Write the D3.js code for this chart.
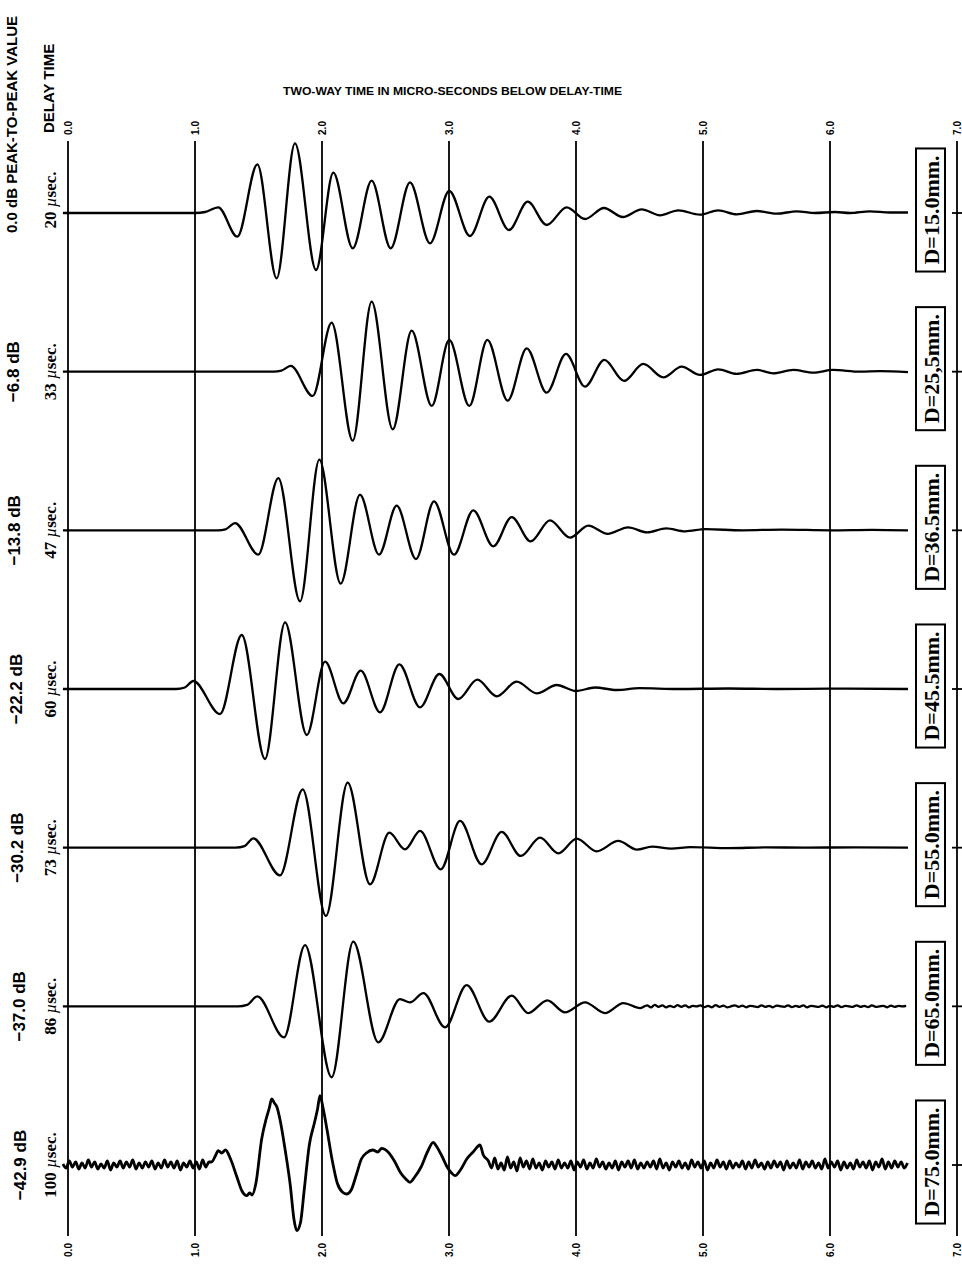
<!DOCTYPE html>
<html>
<head>
<meta charset="utf-8">
<script src="https://cdn.jsdelivr.net/npm/d3@7/dist/d3.min.js"></script>
<style>
  body { margin: 0; background: #fff; }
  svg { display: block; }
</style>
</head>
<body>
<svg width="962" height="1265"></svg>
<script>
// time axis (micro-seconds below delay time)
const timeTicks = [0, 1, 2, 3, 4, 5, 6, 7];

// one entry per trace, top to bottom
const depths = ['D=15.0mm.', 'D=25,5mm.', 'D=36.5mm.', 'D=45.5mm.', 'D=55.0mm.', 'D=65.0mm.', 'D=75.0mm.'];
const dbValues = ['0.0', '\u22126.8', '\u221213.8', '\u221222.2', '\u221230.2', '\u221237.0', '\u221242.9'];
const delays = [20, 33, 47, 60, 73, 86, 100];

// [time, amplitude] (amplitude: 1 unit = 10px)
const trace15 = [[-0.04,0],[1.0,0],[1.08,0.1],[1.183,0.57],[1.333,-2.37],[1.491,4.87],[1.643,-6.53],[1.787,6.97],
  [1.953,-5.7],[2.089,4.03],[2.242,-3.53],[2.391,3.23],[2.541,-3.53],[2.693,3.07],[2.850,-3.03],[3.002,2.2],
  [3.165,-2.3],[3.317,1.63],[3.472,-1.7],[3.620,1.13],[3.769,-1.2],[3.927,0.57],[4.071,-0.6],[4.220,0.5],
  [4.368,-0.4],[4.517,0.37],[4.661,-0.23],[4.806,0.27],[4.976,-0.17],[5.120,0.27],[5.265,-0.13],[5.423,0.2],
  [5.580,-0.07],[5.738,0.17],[5.882,0.0],[6.039,0.1],[6.157,0.0],[6.315,0.17],[6.472,0.05],[6.614,0.05]];

const trace25 = [[-0.04,0],[1.62,0],[1.68,0.1],[1.754,0.57],[1.927,-2.43],[2.076,4.9],[2.242,-6.9],[2.391,7.0],
  [2.557,-5.77],[2.706,4.1],[2.864,-3.43],[3.002,3.17],[3.160,-3.43],[3.302,3.17],[3.462,-2.9],[3.612,2.33],
  [3.769,-2.1],[3.921,1.77],[4.071,-1.5],[4.223,1.17],[4.378,-0.93],[4.530,0.77],[4.687,-0.57],[4.832,0.5],
  [4.976,-0.33],[5.120,0.23],[5.265,-0.23],[5.423,0.17],[5.554,-0.17],[5.711,0.17],[5.869,-0.1],[6.024,0.17],
  [6.236,0.0],[6.394,0.05],[6.614,-0.05]];

const trace36 = [[-0.04,0],[1.18,0],[1.24,0.1],[1.315,0.73],[1.498,-2.43],[1.656,5.23],[1.827,-7.1],[1.979,7.07],
  [2.147,-5.33],[2.299,3.57],[2.449,-2.43],[2.588,2.47],[2.740,-2.87],[2.882,2.9],[3.039,-2.43],[3.191,2.0],
  [3.349,-1.6],[3.494,1.33],[3.643,-1.1],[3.795,1.0],[3.953,-0.73],[4.097,0.47],[4.25,-0.35],[4.41,0.3],
  [4.56,-0.2],[4.71,0.2],[4.86,-0.1],[5.02,0.12],[5.31,0.0],[5.62,0.08],[6.01,0.0],[6.33,0.05],[6.614,0]];

const trace45 = [[-0.04,0],[0.85,0],[0.92,0.15],[0.987,0.8],[1.197,-2.5],[1.368,5.4],[1.551,-7.0],[1.709,6.67],
  [1.880,-4.6],[2.024,2.73],[2.168,-1.43],[2.305,1.83],[2.457,-2.33],[2.609,2.47],[2.772,-1.83],[2.924,1.5],
  [3.073,-1.0],[3.223,0.93],[3.376,-0.73],[3.533,0.73],[3.691,-0.43],[3.848,0.4],[4.0,-0.2],[4.15,0.15],
  [4.32,-0.1],[4.5,0.08],[4.8,0],[5.2,0.05],[5.6,0],[6.0,0.04],[6.614,0]];

const trace55 = [[-0.04,0],[1.32,0],[1.39,0.15],[1.459,0.93],[1.669,-2.77],[1.848,5.83],[2.031,-6.83],[2.202,6.5],
  [2.378,-3.67],[2.530,1.5],[2.654,-0.17],[2.772,1.67],[2.935,-2.17],[3.087,2.67],[3.257,-1.67],[3.415,1.57],
  [3.565,-0.83],[3.717,1.0],[3.861,-0.57],[4.006,0.9],[4.163,-0.37],[4.333,0.67],[4.48,-0.2],[4.6,0.1],
  [4.75,-0.1],[4.9,0.05],[5.2,-0.05],[5.5,0.03],[5.8,0],[6.2,0.03],[6.614,0]];

const trace65 = [[-0.04,0],[1.34,0],[1.41,0.15],[1.491,1.0],[1.701,-3.1],[1.866,6.13],[2.076,-7.1],[2.246,6.47],
  [2.443,-3.6],[2.614,0.73],[2.693,0.4],[2.798,1.33],[2.969,-2.1],[3.139,2.13],[3.317,-1.53],[3.494,1.07],
  [3.624,-0.67],[3.774,0.6],[3.913,-0.6],[4.071,0.4],[4.228,-0.67],[4.373,0.33],[4.504,-0.17]];
// small ripple on the tail of the 65mm trace, sampled every 0.03 from t=4.56
const noise65 = [0.1,-0.1,0.15,-0.05,0.1,-0.1,0.05,-0.08,0.12,-0.05,0.1,-0.1,0.05,0.0,0.1,-0.08,0.05,-0.1,
  0.12,-0.05,0.08,-0.1,0.0,0.1,-0.05,0.08,-0.1,0.05,0.0,-0.08,0.1,-0.05,0.05,-0.1,0.08,0.0,-0.05,0.1,
  -0.08,0.05,-0.05,0.1,-0.1,0.05,0.0,-0.05,0.08,-0.1,0.05,-0.05,0.1,-0.08,0.05,0.0,-0.05,0.1,-0.05,
  0.05,-0.08,0.1,-0.05,0.0,0.05,-0.1,0.08,-0.05,0.05,0.0,0.05];

// 75mm trace: noisy lead-in (every 0.025 from t=-0.04), pulse, noisy tail (every 0.025 from t=3.31)
const noise75a = [0.1,-0.3,0.4,-0.2,0.3,-0.4,0.2,-0.3,0.5,-0.2,0.3,-0.4,0.1,-0.3,0.4,-0.5,0.2,-0.2,0.4,-0.3,
  0.3,-0.2,0.5,-0.4,0.2,-0.3,0.3,-0.2,0.4,-0.4,0.2,-0.3,0.5,-0.2,0.3,-0.3,0.4,-0.5,0.2,-0.2,0.4,-0.3,
  0.3,-0.4,0.5,-0.2,0.3];
const pulse75 = [[1.13,0.3],[1.16,0.9],[1.183,1.43],[1.21,1.2],[1.24,1.5],[1.28,0.6],[1.33,-1.2],[1.37,-2.6],
  [1.407,-3.07],[1.43,-2.8],[1.45,-3.0],[1.48,-1.8],[1.525,2.6],[1.56,4.6],[1.585,5.7],[1.604,6.6],[1.625,6.2],
  [1.645,5.8],[1.67,4.5],[1.71,1.5],[1.75,-2.0],[1.78,-5.5],[1.801,-6.57],[1.83,-5.8],[1.86,-2.5],[1.90,2.0],
  [1.94,4.2],[1.965,5.6],[1.984,6.93],[2.01,5.6],[2.04,3.5],[2.08,0.5],[2.12,-1.8],[2.16,-2.7],[2.194,-2.9],
  [2.23,-2.5],[2.27,-1.0],[2.31,0.6],[2.35,1.2],[2.40,1.5],[2.44,1.3],[2.470,1.67],[2.52,1.3],[2.57,0.4],
  [2.62,-0.8],[2.66,-1.4],[2.693,-1.73],[2.73,-1.2],[2.78,-0.2],[2.83,1.3],[2.876,2.27],[2.90,1.9],[2.94,1.0],
  [2.99,-0.3],[3.02,-0.8],[3.047,-1.07],[3.09,-0.5],[3.14,0.6],[3.19,1.3],[3.244,2.0],[3.27,1.0]];
const noise75b = [0.4,-0.3,0.7,-0.4,0.2,-0.5,0.8,-0.3,0.3,-0.6,0.7,-0.2,0.4,-0.4,0.6,-0.3,0.2,-0.5,0.4,-0.2,
  0.3,-0.4,0.5,-0.3,0.2,-0.3,0.4,-0.5,0.3,-0.2,0.5,-0.4,0.2,-0.3,0.6,-0.2,0.3,-0.4,0.2,-0.3,
  0.4,-0.5,0.3,-0.2,0.4,-0.3,0.5,-0.4,0.2,-0.3,0.3,-0.2,0.4,-0.4,0.6,-0.3,0.2,-0.5,0.3,-0.2,
  0.4,-0.3,0.2,-0.4,0.5,-0.2,0.3,-0.3,0.4,-0.5,0.2,-0.3,0.5,-0.2,0.3,-0.4,0.4,-0.3,0.2,-0.2,
  0.4,-0.4,0.3,-0.3,0.5,-0.2,0.2,-0.4,0.3,-0.3,0.4,-0.2,0.3,-0.5,0.4,-0.3,0.2,-0.3,0.5,-0.4,
  0.3,-0.2,0.4,-0.3,0.2,-0.4,0.6,-0.3,0.3,-0.2,0.4,-0.5,0.3,-0.3,0.2,-0.4,0.5,-0.2,0.3,-0.3,
  0.4,-0.5,0.3,-0.2,0.6,-0.4,0.3,-0.3,0.4,-0.2,0.3,-0.3,0.2];

const sampled = (vals, start, step) => vals.map((a, i) => [start + i * step, a]);

const traces = [
  trace15, trace25, trace36, trace45, trace55,
  trace65.concat(sampled(noise65, 4.56, 0.03)),
  sampled(noise75a, -0.04, 0.025).concat(pulse75, sampled(noise75b, 3.31, 0.025))
];

const svg = d3.select('svg');

const x = d3.scaleLinear().domain([0, 7]).range([68, 957]);
const row = d3.scaleLinear().domain([0, 6]).range([213, 1165]);
const amp = d3.scaleLinear().domain([-8, 8]).range([80, -80]);

const gridTop = 141, gridBottom = 1236;

// vertical time lines
svg.append('g').selectAll('line')
  .data(timeTicks)
  .enter().append('line')
    .attr('x1', d => x(d)).attr('x2', d => x(d))
    .attr('y1', gridTop).attr('y2', gridBottom)
    .attr('stroke', '#000')
    .attr('stroke-width', 1.8);

// tick labels, top and bottom, turned on their side
[128, 1250].forEach(yy => {
  svg.append('g').selectAll('text')
    .data(timeTicks)
    .enter().append('text')
      .attr('transform', d => `translate(${x(d)}, ${yy}) rotate(-90)`)
      .attr('text-anchor', 'middle')
      .attr('dominant-baseline', 'central')
      .style('font', 'bold 10px "Liberation Sans", sans-serif')
      .text(d => d3.format('.1f')(d));
});

// title
svg.append('text')
  .attr('x', 283).attr('y', 95)
  .attr('textLength', 339)
  .attr('lengthAdjust', 'spacingAndGlyphs')
  .style('font', 'bold 10px "Liberation Sans", sans-serif')
  .text('TWO-WAY TIME IN MICRO-SECONDS BELOW DELAY-TIME');

svg.append('text')
  .attr('transform', 'translate(48, 133) rotate(-90)')
  .attr('dominant-baseline', 'central')
  .style('font', 'bold 15px "Liberation Sans", sans-serif')
  .text('DELAY TIME');

const line = d3.line()
  .x(d => x(d[0]))
  .y(d => amp(d[1]))
  .curve(d3.curveMonotoneX);

const rows = svg.append('g').selectAll('.trace')
  .data(traces)
  .enter().append('g')
    .attr('class', 'trace')
    .attr('transform', (d, i) => `translate(0, ${row(i)})`);

rows.append('path')
  .attr('fill', 'none')
  .attr('stroke', '#000')
  .attr('stroke-width', (d, i) => i === 6 ? 2.8 : 2.3)
  .attr('stroke-linejoin', 'round')
  .attr('d', line);

// little tick where each baseline meets the 7.0 line
rows.append('line')
  .attr('x1', x(7) - 5).attr('x2', x(7) + 5)
  .attr('stroke', '#000').attr('stroke-width', 1.8);

// level and delay labels on the left
rows.append('text')
  .attr('transform', (d, i) => i === 0
    ? 'translate(11, 20) rotate(-90)'
    : `translate(${12 + i * 1.4}, 0) rotate(-90)`)
  .attr('text-anchor', (d, i) => i === 0 ? 'start' : 'middle')
  .attr('dominant-baseline', 'central')
  .style('font', (d, i) => `bold ${i === 0 ? 15 : 17}px "Liberation Sans", sans-serif`)
  .text((d, i) => `${dbValues[i]} dB` + (i === 0 ? ' PEAK-TO-PEAK VALUE' : ''));

const delayText = rows.append('text')
  .attr('transform', (d, i) => `translate(50, ${i === 0 ? -13 : 0}) rotate(-90)`)
  .attr('text-anchor', 'middle')
  .attr('dominant-baseline', 'central')
  .style('font', 'bold 17px "Liberation Serif", serif');
delayText.append('tspan').text((d, i) => `${delays[i]} `);
delayText.append('tspan').style('font-style', 'italic').style('font-weight', 'normal').text('\u00b5');
delayText.append('tspan').text('sec.');

// boxed depth labels on the right
rows.each(function(d, i) {
  const g = d3.select(this);
  const box = g.append('rect');
  const t = g.append('text')
    .attr('transform', 'translate(931, -3) rotate(-90)')
    .attr('text-anchor', 'middle')
    .attr('dominant-baseline', 'central')
    .style('font', 'bold 22px "Liberation Serif", serif')
    .text(depths[i]);
  const len = t.node().getComputedTextLength();
  box.attr('x', 916).attr('width', 29)
    .attr('y', -3 - len / 2 - 7).attr('height', len + 14)
    .attr('fill', '#fff')
    .attr('stroke', '#000')
    .attr('stroke-width', 2);
});
</script>
</body>
</html>
